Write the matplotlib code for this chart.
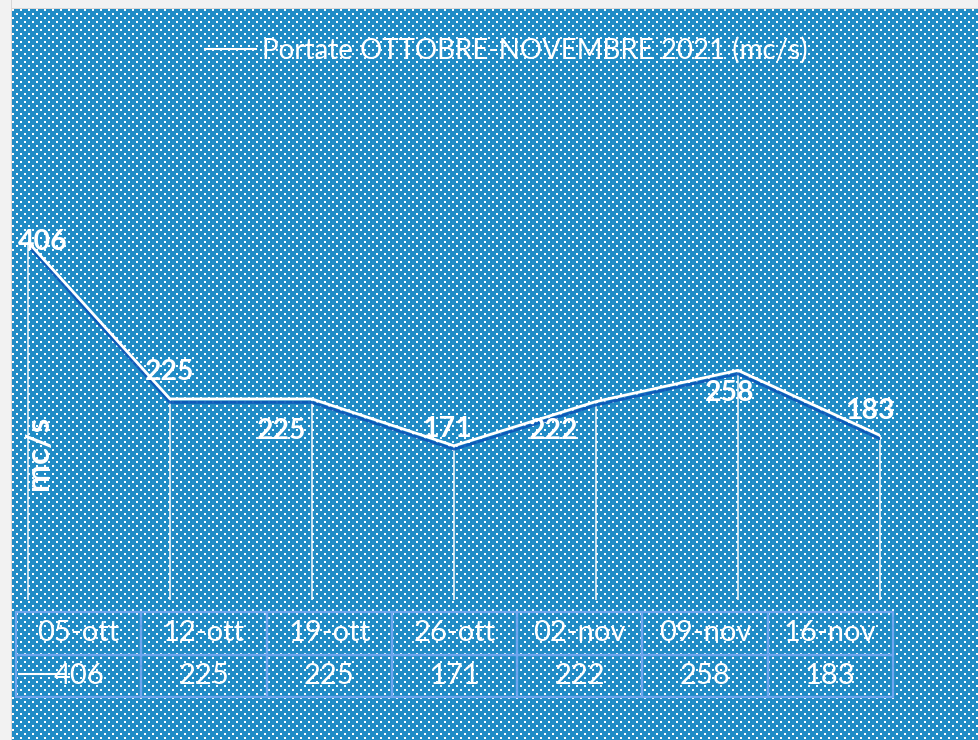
import numpy as np
import matplotlib
matplotlib.use("Agg")
import matplotlib.pyplot as plt
from matplotlib.lines import Line2D
import matplotlib.patheffects as pe

# ---- data ----
dates = ["05-ott", "12-ott", "19-ott", "26-ott", "02-nov", "09-nov", "16-nov"]
portate = [406, 225, 225, 171, 222, 258, 183]
series_name = "Portate OTTOBRE-NOVEMBRE 2021 (mc/s)"
y_label = "mc/s"

# label offsets in pixels (dx, dy) relative to each point
label_offsets = [(15, 0), (0, 27), (-30, -32), (-7, 17), (-42, -29), (-8, -23), (-10, 24)]

W, H = 979, 740
DPI = 100
BLUE = np.array([0x21, 0x8C, 0xC6]) / 255.0
FONT = "Lato"

fig = plt.figure(figsize=(W / DPI, H / DPI), dpi=DPI)

# ---- background texture (blue with white dot pattern, grey frame) ----
img = np.ones((H, W, 3)) * (0xF2 / 255.0)
x0, y0 = 12, 9
img[y0:, x0:, :] = BLUE
yy, xx = np.mgrid[0:H - y0, 0:W - x0]
row = yy // 4
dots = ((yy % 4) < 2) & (((xx + 4 * (row % 2)) % 8) < 2)
sub = img[y0:, x0:, :]
sub[dots] = 1.0
img[:, x0 - 1, :] = 0xD6 / 255.0
img[y0 - 1, x0 - 1:, :] = 0xD6 / 255.0
fig.figimage(img, xo=0, yo=0, origin="upper", zorder=-10)

# ---- main plot axes ----
px_left, px_right = 28, 880
px_zero = 594
k = 0.867  # px per unit
ymax = 450
bottom_px = H - px_zero
ax = fig.add_axes([px_left / W, bottom_px / H, (px_right - px_left) / W, ymax * k / H])
ax.set_zorder(2)
ax.set_xlim(0, len(dates) - 1)
ax.set_ylim(0, ymax)
ax.patch.set_alpha(0)
ax.set_axis_off()

x = np.arange(len(dates))
ax.vlines(x, -7, portate, color="white", lw=1.2, alpha=0.85, clip_on=False)
ax.plot(x, portate, color="white", lw=2,
        path_effects=[pe.SimpleLineShadow(offset=(0, -2.5), shadow_color="#0B55B8", alpha=0.9),
                      pe.Normal()])

for xi, v, (dx, dy) in zip(x, portate, label_offsets):
    ax.annotate(str(v), (xi, v), xytext=(dx, dy), textcoords="offset pixels",
                ha="center", va="center", color="white", fontsize=20.5,
                fontweight="bold", family=FONT, annotation_clip=False)

fig.text(38 / W, 1 - 453 / H, y_label, rotation=90, ha="center", va="center",
         color="white", fontsize=24, fontweight="bold", family=FONT, zorder=5)

# ---- legend / title ----
leg = fig.legend([Line2D([0], [0], color="white", lw=1.5)], [series_name],
                 loc="center", bbox_to_anchor=(506 / W, 1 - 50 / H), frameon=False,
                 handlelength=1.85, handletextpad=0.2,
                 prop={"family": FONT, "size": 20}, labelcolor="white")
leg.set_zorder(5)

# ---- data table ----
tx0, tx1, ty0, ty1 = 16, 893, 612, 697
tab_ax = fig.add_axes([tx0 / W, (H - ty1) / H, (tx1 - tx0) / W, (ty1 - ty0) / H])
tab_ax.set_zorder(2)
tab_ax.set_axis_off()
tab = tab_ax.table(cellText=[dates, [str(v) for v in portate]], bbox=[0, 0, 1, 1],
                   cellLoc="center")
tab.auto_set_font_size(False)
for (r, c), cell in tab.get_celld().items():
    cell.set_facecolor("none")
    cell.set_edgecolor("#6EA6EE")
    cell.set_linewidth(1.6)
    cell.get_text().set_color("white")
    cell.get_text().set_fontsize(21)
    cell.get_text().set_family(FONT)

# legend key inside the value row
fig.add_artist(Line2D([19 / W, 64 / W], [1 - 674 / H, 1 - 674 / H], color="white", lw=1.5, zorder=5))

fig.savefig("out.png", dpi=DPI)
